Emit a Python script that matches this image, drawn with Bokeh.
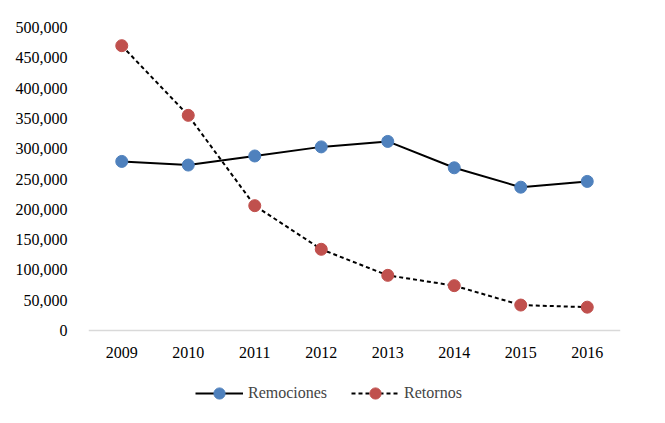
from bokeh.plotting import figure
from bokeh.models import Range1d, FixedTicker, NumeralTickFormatter, Legend, LegendItem, Span
from bokeh.core.properties import value
from bokeh.embed import file_html
from bokeh.resources import INLINE

years = [2009, 2010, 2011, 2012, 2013, 2014, 2015, 2016]
year_labels = [str(y) for y in years]
remociones = [279000, 273000, 288000, 303000, 312000, 268500, 236500, 246000]
retornos = [470000, 355000, 206000, 134000, 91000, 74000, 42000, 38500]
y_ticks = [0, 50000, 100000, 150000, 200000, 250000, 300000, 350000, 400000, 450000, 500000]

FONT = "Liberation Serif"
BLUE = "#4f81bd"
RED = "#c0504d"

W, H = 649, 407
TOP, LEFT, RIGHT = 27, 88, 620
ZERO_PX = 330  # pixel row of value 0
YMAX = 500000
px_per_unit = (ZERO_PX - TOP) / YMAX
ymin = -(H - ZERO_PX) / px_per_unit

p = figure(width=W, height=H, output_backend="svg", toolbar_location=None,
           x_range=Range1d(2008.5, 2016.5), y_range=Range1d(ymin, YMAX),
           min_border_left=LEFT, min_border_right=W - RIGHT, min_border_top=TOP,
           min_border_bottom=0)
p.outline_line_color = None
p.grid.visible = False
p.xaxis.visible = False

p.yaxis.ticker = FixedTicker(ticks=y_ticks)
p.yaxis.formatter = NumeralTickFormatter(format="0,0")
p.yaxis.major_tick_line_color = None
p.yaxis.minor_tick_line_color = None
p.yaxis.major_label_text_font = FONT
p.yaxis.major_label_text_font_size = "16px"
p.yaxis.major_label_text_color = "#000000"
p.yaxis.axis_line_color = None
p.yaxis.major_label_standoff = 15

p.add_layout(Span(location=0, dimension="width", line_color="#d9d9d9", line_width=1.5))

p.text(x=years, y=[0] * len(years), text=year_labels, text_font=value(FONT),
       text_font_size="16px", text_color="#000000", text_align="center",
       text_baseline="middle", y_offset=22)

l1 = p.line(years, remociones, line_color="black", line_width=2)
s1 = p.scatter(years, remociones, size=12, fill_color=BLUE, line_color=BLUE)
l2 = p.line(years, retornos, line_color="black", line_width=2, line_dash="4 3")
s2 = p.scatter(years, retornos, size=12, fill_color=RED, line_color=RED)

legend = Legend(items=[LegendItem(label="Remociones", renderers=[l1, s1]),
                       LegendItem(label="Retornos", renderers=[l2, s2])],
                orientation="horizontal", location=(107, 0),
                label_text_font=FONT, label_text_font_size="16px",
                glyph_width=48, glyph_height=28, spacing=24, border_line_color=None,
                background_fill_alpha=0,
                margin=0, padding=0, label_standoff=5)
p.add_layout(legend, "center")

open("out.html", "w").write(file_html(p, INLINE))
